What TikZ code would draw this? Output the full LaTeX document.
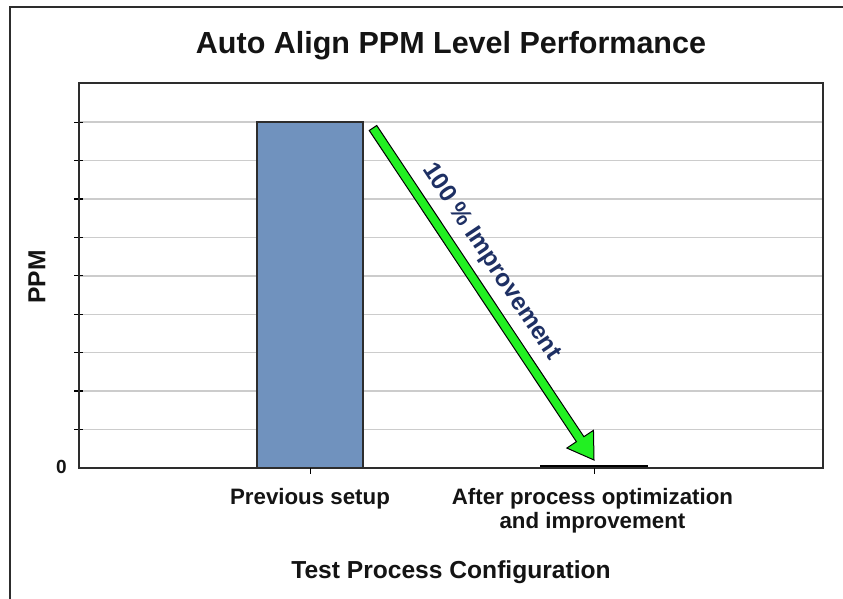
\documentclass[tikz,border=0pt]{standalone}
\usepackage{fontspec}
\setmainfont{Liberation Sans}
\usetikzlibrary{calc}

\definecolor{barblue}{RGB}{112,146,190}
\definecolor{gridgray}{RGB}{204,204,204}
\definecolor{arrowgreen}{RGB}{34,240,34}
\definecolor{labelnavy}{RGB}{30,48,100}
\definecolor{framegray}{RGB}{45,45,45}
\definecolor{textdark}{RGB}{20,20,20}

\tikzset{
  chartframe/.style={line width=2.2pt, draw=framegray},
  plotframe/.style={line width=1.8pt, draw=framegray},
  gridline/.style={line width=1.4pt, draw=gridgray},
  ytick/.style={line width=1.2pt, draw=black},
  xtick/.style={line width=1pt, draw=black},
  bar/.style={fill=barblue, draw=framegray, line width=1.5pt},
  titletext/.style={font=\bfseries\fontsize{30.5}{35}\selectfont, text=textdark, inner sep=0pt},
  axistitle/.style={font=\bfseries\fontsize{24.6}{28}\selectfont, text=textdark, inner sep=0pt},
  catlabel/.style={font=\bfseries\fontsize{22.3}{24}\selectfont, text=textdark, inner sep=0pt, align=center},
  ticklabel/.style={font=\bfseries\fontsize{19}{22}\selectfont, text=textdark, inner sep=0pt},
  bigarrow/.style={fill=arrowgreen, draw=black, line width=1pt, line join=miter},
  arrowlabel/.style={font=\bfseries\fontsize{24.5}{28}\selectfont, text=labelnavy, inner sep=0pt},
}

\begin{document}
\begin{tikzpicture}[x=1pt, y=-1pt]
  \useasboundingbox (0,0) rectangle (843,599);
  \fill[white] (0,0) rectangle (843,599);

  % outer chart border (left and top edges)
  \draw[chartframe] (10,600) -- (10,7) -- (844,7);

  % plot area corners
  \coordinate (pTL) at (79,83);
  \coordinate (pBR) at (823,467.8);

  % horizontal gridlines and y-axis tick marks
  \foreach \k in {1,...,9} {
    \draw[gridline] (79,{467.8-38.4*\k}) -- (823,{467.8-38.4*\k});
    \draw[ytick] (74,{467.8-38.4*\k}) -- (83,{467.8-38.4*\k});
  }

  % bars
  \draw[bar] (257,122.2) rectangle (363,467.8);
  \fill[black] (540,464.5) rectangle (648,467.8);

  % plot frame
  \draw[plotframe] (pTL) rectangle (pBR);

  % category tick marks
  \draw[xtick] (310,467.8) -- (310,474);
  \draw[xtick] (594,467.8) -- (594,474);

  % improvement arrow
  \coordinate (arrS) at (373,128);
  \coordinate (arrT) at (594,460);
  \coordinate (arrB) at ($(arrT)!25pt!(arrS)$);
  \filldraw[bigarrow]
    ($(arrS)!4.5pt!90:(arrT)$) --
    ($(arrB)!4.5pt!90:(arrT)$) --
    ($(arrB)!16pt!90:(arrT)$) --
    (arrT) --
    ($(arrB)!16pt!-90:(arrT)$) --
    ($(arrB)!4.5pt!-90:(arrT)$) --
    ($(arrS)!4.5pt!-90:(arrT)$) -- cycle;
  \node[arrowlabel, rotate=-56.35] (improve) at (491,262) {100 \% Improvement};

  % texts
  \node[titletext, anchor=base] (title) at (451,54) {Auto Align PPM Level Performance};
  \node[axistitle, rotate=90] (yname) at (37,277) {PPM};
  \node[ticklabel, anchor=east] (zero) at (67,467) {0};
  \node[catlabel, anchor=base] (cat1) at (310,504) {Previous setup};
  \node[catlabel, anchor=north] (cat2) at (592.5,488) {After process optimization\\and improvement};
  \node[axistitle, anchor=base] (xname) at (451,578) {Test Process Configuration};
\end{tikzpicture}
\end{document}
